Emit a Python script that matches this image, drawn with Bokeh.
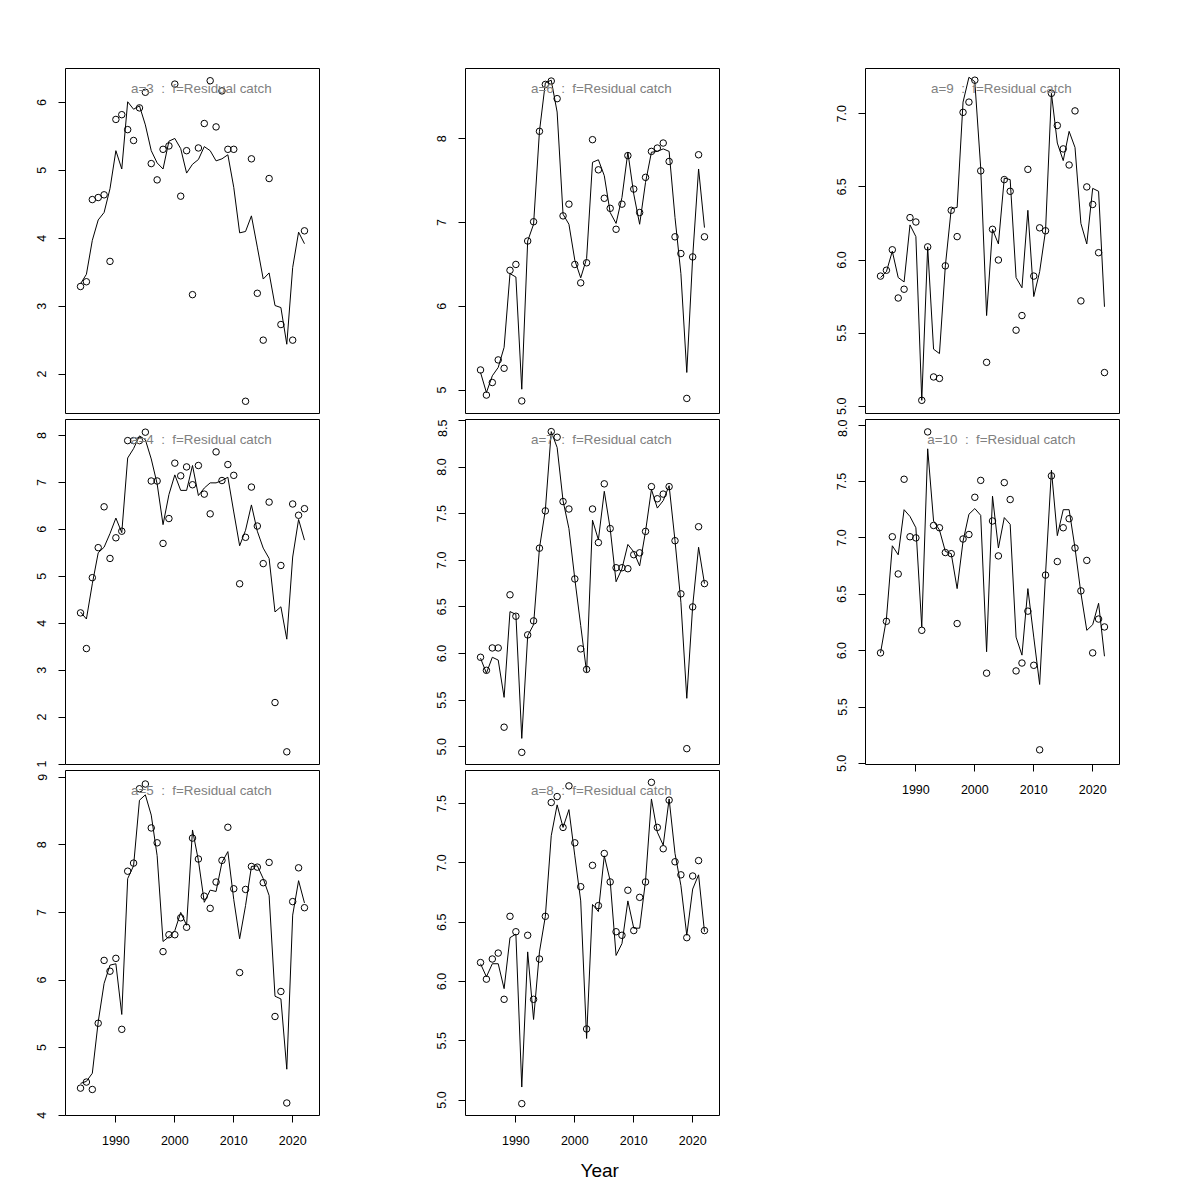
from bokeh.plotting import figure
from bokeh.layouts import row, column
from bokeh.models import FixedTicker, Label, Range1d, ColumnDataSource, PrintfTickFormatter, Title
from bokeh.embed import file_html
from bokeh.resources import INLINE

NA = float("nan")
years = list(range(1984, 2023))

obs_a3 = [3.29, 3.36, 4.57, 4.60, 4.64, 3.66, 5.75, 5.82, 5.60, 5.44, 5.92, 6.15, 5.10, 4.86, 5.31, 5.36, 6.27, 4.62, 5.29, 3.17,
          5.33, 5.69, 6.32, 5.64, 6.17, 5.31, 5.31, NA, 1.60, 5.17, 3.19, 2.50, 4.88, NA, 2.73, NA, 2.50, NA, 4.11]
fit_a3 = [3.33, 3.47, 3.97, 4.27, 4.38, 4.73, 5.29, 5.02, 6.01, 5.90, 5.95, 5.67, 5.29, 5.11, 5.02, 5.43, 5.47, 5.32, 4.96, 5.09,
          5.16, 5.35, 5.29, 5.14, 5.17, 5.23, 4.75, 4.08, 4.10, 4.33, 3.87, 3.40, 3.49, 3.01, 2.98, 2.44, 3.57, 4.09, 3.92]

obs_a4 = [4.22, 3.46, 4.97, 5.61, 6.48, 5.38, 5.82, 5.96, 7.89, 7.89, 7.89, 8.07, 7.03, 7.03, 5.70, 6.23, 7.41, 7.14, 7.33, 6.95,
          7.36, 6.75, 6.33, 7.65, 7.04, 7.38, 7.15, 4.84, 5.83, 6.90, 6.07, 5.27, 6.58, 2.31, 5.23, 1.26, 6.54, 6.30, 6.44]
fit_a4 = [4.24, 4.09, 4.84, 5.50, 5.62, 5.91, 6.24, 5.93, 7.52, 7.72, 7.99, 7.91, 7.50, 6.97, 6.10, 6.74, 7.16, 6.83, 6.83, 7.36,
          6.72, 6.88, 6.99, 6.99, 7.04, 7.11, 6.37, 5.65, 5.98, 6.52, 5.96, 5.60, 5.38, 4.24, 4.35, 3.66, 5.41, 6.21, 5.77]

obs_a5 = [4.40, 4.49, 4.38, 5.36, 6.29, 6.13, 6.32, 5.27, 7.61, 7.73, 8.83, 8.90, 8.25, 8.03, 6.42, 6.67, 6.67, 6.92, 6.78, 8.10,
          7.79, 7.24, 7.06, 7.45, 7.77, 8.26, 7.35, 6.11, 7.34, 7.68, 7.67, 7.44, 7.74, 5.46, 5.83, 4.18, 7.16, 7.66, 7.07]
fit_a5 = [4.47, 4.50, 4.62, 5.38, 5.95, 6.22, 6.24, 5.49, 7.50, 7.69, 8.66, 8.74, 8.44, 7.84, 6.57, 6.64, 6.73, 7.00, 6.81, 8.22,
          7.77, 7.15, 7.33, 7.31, 7.74, 7.90, 7.19, 6.61, 7.10, 7.68, 7.69, 7.50, 7.25, 5.76, 5.72, 4.68, 6.96, 7.47, 7.14]

obs_a6 = [5.24, 4.94, 5.09, 5.36, 5.26, 6.43, 6.50, 4.87, 6.78, 7.01, 8.09, 8.65, 8.69, 8.48, 7.08, 7.22, 6.50, 6.28, 6.52, 7.99,
          7.63, 7.29, 7.17, 6.92, 7.22, 7.80, 7.40, 7.12, 7.54, 7.85, 7.89, 7.95, 7.73, 6.83, 6.63, 4.90, 6.59, 7.81, 6.83]
fit_a6 = [5.21, 4.97, 5.17, 5.27, 5.51, 6.39, 6.35, 5.01, 6.78, 6.98, 8.09, 8.67, 8.70, 8.32, 7.10, 6.98, 6.55, 6.34, 6.57, 7.72,
          7.75, 7.56, 7.12, 6.99, 7.30, 7.84, 7.34, 6.98, 7.48, 7.84, 7.85, 7.88, 7.85, 7.06, 6.39, 5.21, 6.59, 7.64, 6.94]

obs_a7 = [5.96, 5.82, 6.06, 6.06, 5.21, 6.63, 6.40, 4.94, 6.20, 6.35, 7.13, 7.53, 8.38, 8.32, 7.63, 7.55, 6.80, 6.05, 5.83, 7.55,
          7.19, 7.82, 7.34, 6.92, 6.92, 6.91, 7.06, 7.08, 7.31, 7.79, 7.66, 7.71, 7.79, 7.21, 6.64, 4.98, 6.50, 7.36, 6.75]
fit_a7 = [5.95, 5.79, 5.96, 5.93, 5.53, 6.45, 6.42, 5.09, 6.19, 6.31, 7.13, 7.54, 8.38, 8.21, 7.64, 7.34, 6.80, 6.30, 5.80, 7.43,
          7.22, 7.74, 7.34, 6.77, 6.91, 7.17, 7.09, 6.94, 7.31, 7.76, 7.56, 7.64, 7.80, 7.21, 6.55, 5.52, 6.51, 7.14, 6.75]

obs_a8 = [6.16, 6.02, 6.19, 6.24, 5.85, 6.55, 6.42, 4.97, 6.39, 5.85, 6.19, 6.55, 7.51, 7.56, 7.30, 7.65, 7.17, 6.80, 5.60, 6.98,
          6.64, 7.08, 6.84, 6.42, 6.39, 6.77, 6.43, 6.71, 6.84, 7.68, 7.30, 7.12, 7.53, 7.01, 6.90, 6.37, 6.89, 7.02, 6.43]
fit_a8 = [6.15, 6.04, 6.15, 6.15, 5.94, 6.37, 6.40, 5.11, 6.25, 5.68, 6.25, 6.55, 7.23, 7.49, 7.30, 7.45, 7.06, 6.68, 5.52, 6.65,
          6.59, 7.06, 6.85, 6.22, 6.32, 6.68, 6.45, 6.45, 6.85, 7.54, 7.26, 7.15, 7.54, 7.08, 6.81, 6.39, 6.78, 6.90, 6.42]

obs_a9 = [5.89, 5.93, 6.07, 5.74, 5.80, 6.29, 6.26, 5.04, 6.09, 5.20, 5.19, 5.96, 6.34, 6.16, 7.01, 7.08, 7.23, 6.61, 5.30, 6.21,
          6.00, 6.55, 6.47, 5.52, 5.62, 6.62, 5.89, 6.22, 6.20, 7.14, 6.92, 6.76, 6.65, 7.02, 5.72, 6.50, 6.38, 6.05, 5.23]
fit_a9 = [5.88, 5.92, 6.06, 5.88, 5.85, 6.24, 6.16, 5.04, 6.09, 5.39, 5.36, 5.96, 6.35, 6.36, 7.08, 7.25, 7.22, 6.63, 5.62, 6.21,
          6.11, 6.56, 6.55, 5.88, 5.81, 6.34, 5.75, 5.92, 6.20, 7.14, 6.80, 6.68, 6.88, 6.77, 6.25, 6.11, 6.49, 6.47, 5.68]

obs_a10 = [5.98, 6.26, 7.01, 6.68, 7.52, 7.01, 7.00, 6.18, 7.94, 7.11, 7.09, 6.87, 6.86, 6.24, 6.99, 7.03, 7.36, 7.51, 5.80, 7.15,
           6.84, 7.49, 7.34, 5.82, 5.89, 6.35, 5.87, 5.12, 6.67, 7.55, 6.79, 7.09, 7.17, 6.91, 6.53, 6.80, 5.98, 6.28, 6.21]
fit_a10 = [5.98, 6.28, 6.93, 6.85, 7.25, 7.19, 7.09, 6.21, 7.79, 7.15, 7.07, 6.88, 6.86, 6.55, 6.97, 7.21, 7.26, 7.20, 5.99, 7.37,
           6.91, 7.18, 7.12, 6.12, 5.96, 6.55, 6.12, 5.70, 6.68, 7.60, 7.02, 7.25, 7.25, 6.91, 6.51, 6.18, 6.23, 6.42, 5.95]

yticks_a3 = [2, 3, 4, 5, 6]
yticks_a4 = [1, 2, 3, 4, 5, 6, 7, 8]
yticks_a5 = [4, 5, 6, 7, 8, 9]
yticks_a6 = [5, 6, 7, 8]
yticks_a7 = [5.0, 5.5, 6.0, 6.5, 7.0, 7.5, 8.0, 8.5]
yticks_a8 = [5.0, 5.5, 6.0, 6.5, 7.0, 7.5]
yticks_a9 = [5.0, 5.5, 6.0, 6.5, 7.0]
yticks_a10 = [5.0, 5.5, 6.0, 6.5, 7.0, 7.5, 8.0]
xticks = [1990, 2000, 2010, 2020]

yrange_a3 = (1.42, 6.50)
yrange_a4 = (0.99, 8.34)
yrange_a5 = (3.995, 9.10)
yrange_a6 = (4.72, 8.84)
yrange_a7 = (4.81, 8.51)
yrange_a8 = (4.87, 7.78)
yrange_a9 = (4.95, 7.31)
yrange_a10 = (4.99, 8.05)

FONT = "Liberation Sans"
TICK_FS = "12.5px"
NB = "\u00a0"


def panel(age, obs, fit, yticks, yr, top, bottom, right, show_x, decimals):
    p = figure(frame_width=254, frame_height=345,
               x_range=Range1d(1981.45, 2024.55), y_range=Range1d(*yr),
               output_backend="svg", toolbar_location=None,
               min_border_left=65, min_border_right=right,
               min_border_top=top, min_border_bottom=bottom)
    p.grid.visible = False
    p.outline_line_color = "black"
    p.outline_line_width = 1
    p.outline_line_alpha = 1.0
    p.background_fill_color = "white"
    p.border_fill_color = "white"
    src = ColumnDataSource(dict(year=years, obs=obs, fit=fit))
    p.line("year", "fit", source=src, line_color="black", line_width=1)
    p.scatter("year", "obs", source=src, marker="circle", size=6.5,
              fill_color=None, line_color="black", line_width=1)

    yax = p.yaxis[0]
    yax.ticker = FixedTicker(ticks=yticks)
    if decimals:
        yax.formatter = PrintfTickFormatter(format="%.1f")
    yax.minor_tick_line_color = None
    yax.axis_line_color = None
    yax.major_tick_in = 0
    yax.major_tick_out = 7
    yax.major_tick_line_color = "black"
    yax.major_label_orientation = "vertical"
    yax.major_label_standoff = 12
    yax.major_label_text_font = FONT
    yax.major_label_text_font_size = TICK_FS
    yax.major_label_text_color = "black"

    xax = p.xaxis[0]
    if show_x:
        xax.ticker = FixedTicker(ticks=xticks)
        xax.minor_tick_line_color = None
        xax.axis_line_color = None
        xax.major_tick_in = 0
        xax.major_tick_out = 7
        xax.major_tick_line_color = "black"
        xax.major_label_standoff = 13
        xax.major_label_text_font = FONT
        xax.major_label_text_font_size = TICK_FS
        xax.major_label_text_color = "black"
    else:
        xax.visible = False

    p.add_layout(Label(x=2004.5, y=325, x_units="data", y_units="screen",
                       text=f"a={age}{NB}{NB}:{NB}{NB}f=Residual catch",
                       text_align="center", text_baseline="alphabetic",
                       text_font=FONT, text_font_size="13.4px",
                       text_color="#808080"))
    return p


f3 = panel(3, obs_a3, fit_a3, yticks_a3, yrange_a3, 68, 6, 81, False, False)
f4 = panel(4, obs_a4, fit_a4, yticks_a4, yrange_a4, 0, 6, 81, False, False)
f5 = panel(5, obs_a5, fit_a5, yticks_a5, yrange_a5, 0, 45, 81, True, False)
f6 = panel(6, obs_a6, fit_a6, yticks_a6, yrange_a6, 68, 6, 81, False, False)
f7 = panel(7, obs_a7, fit_a7, yticks_a7, yrange_a7, 0, 6, 81, False, True)
f8 = panel(8, obs_a8, fit_a8, yticks_a8, yrange_a8, 0, 20, 81, True, True)
f9 = panel(9, obs_a9, fit_a9, yticks_a9, yrange_a9, 68, 6, 30, False, True)
f10 = panel(10, obs_a10, fit_a10, yticks_a10, yrange_a10, 0, 45, 30, True, True)

f8.add_layout(Title(text="Year", align="left", offset=115, standoff=21,
                    text_font=FONT, text_font_size="19px", text_font_style="normal",
                    text_color="black"), "below")

layout = row(column(f3, f4, f5), column(f6, f7, f8), column(f9, f10))

with open("out.html", "w") as fh:
    fh.write(file_html(layout, INLINE))
